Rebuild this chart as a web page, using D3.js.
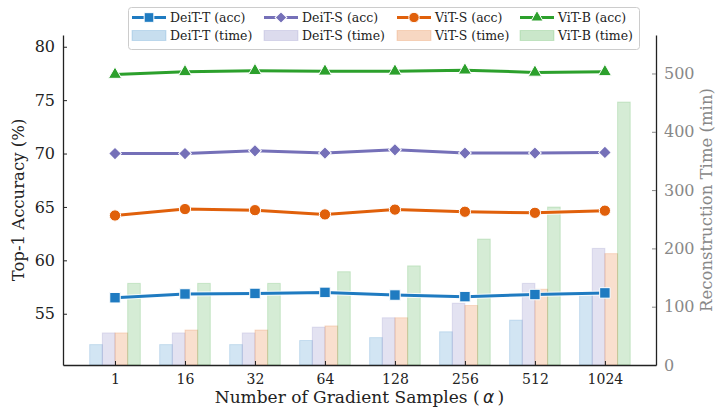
<!DOCTYPE html>
<html lang="en">
  <head>
    <title>chart</title>
    <meta charset="utf-8">
    <style>
      body { margin: 0; background: #fff; }
      svg { font-family: "DejaVu Serif", serif; }
    </style>
  </head>
  <body>
<svg width="721" height="409"></svg>
<script src="https://d3js.org/d3.v7.min.js"></script>
<script>

var samples = ["1", "16", "32", "64", "128", "256", "512", "1024"];
var models = ["DeiT-T", "DeiT-S", "ViT-S", "ViT-B"];
var colors = ["#1f7bc1", "#7570b8", "#e0600b", "#2ca02c"];
var markers = ["square", "diamond", "circle", "triangle"];

// top-1 accuracy (%), left axis
var accDeiTT = [56.5, 56.85, 56.9, 57.0, 56.75, 56.6, 56.8, 56.95];
var accDeiTS = [70.0, 70.0, 70.25, 70.05, 70.35, 70.05, 70.05, 70.1];
var accViTS = [64.2, 64.8, 64.7, 64.3, 64.75, 64.55, 64.45, 64.65];
var accViTB = [77.4, 77.65, 77.75, 77.7, 77.7, 77.8, 77.6, 77.65];

// reconstruction time (min), right axis
var timeDeiTT = [35, 35, 35, 42, 47, 57, 77, 123];
var timeDeiTS = [55, 55, 55, 65, 81, 106, 140, 200];
var timeViTS = [55, 60, 60, 67, 81, 102, 130, 191];
var timeViTB = [140, 140, 140, 160, 170, 216, 271, 451];

var accSeries = [accDeiTT, accDeiTS, accViTS, accViTB];
var timeSeries = [timeDeiTT, timeDeiTS, timeViTS, timeViTB];

var leftTicks = [55, 60, 65, 70, 75, 80];
var rightTicks = [0, 100, 200, 300, 400, 500];

var svg = d3.select("svg");
var pLeft = 63, pRight = 656, pTop = 35, pBottom = 365;

var x = d3.scaleLinear().domain([-0.743, 7.73]).range([pLeft, pRight]);
var yL = d3.scaleLinear().domain([50.2, 81.1]).range([pBottom, pTop]);
var yR = d3.scaleLinear().domain([0, 566]).range([pBottom, pTop]);
var bw = 0.181;

// bars
timeSeries.forEach(function(s, k) {
  svg.append("g").selectAll("rect").data(s).enter().append("rect")
    .attr("x", function(d, i) { return x(i + (k - 2) * bw); })
    .attr("y", function(d) { return yR(d); })
    .attr("width", x(bw) - x(0))
    .attr("height", function(d) { return pBottom - yR(d); })
    .attr("fill", colors[k]).attr("fill-opacity", 0.2)
    .attr("stroke", colors[k]).attr("stroke-opacity", 0.18).attr("stroke-width", 1);
});

function drawMarker(g, type, cx, cy, col, size) {
  var sym = {square: d3.symbolSquare, diamond: d3.symbolSquare, circle: d3.symbolCircle, triangle: d3.symbolTriangle}[type];
  var area = {square: 110, diamond: 80, circle: 100, triangle: 75}[type] * (size || 1);
  g.append("path").attr("d", d3.symbol().type(sym).size(area)())
    .attr("transform", "translate(" + cx + "," + cy + ")" + (type == "diamond" ? " rotate(45)" : ""))
    .attr("fill", col).attr("stroke", "#fff").attr("stroke-width", 1);
}

// lines
var line = d3.line().x(function(d, i) { return x(i); }).y(function(d) { return yL(d); });
accSeries.forEach(function(s, k) {
  var g = svg.append("g");
  g.append("path").attr("d", line(s)).attr("fill", "none")
    .attr("stroke", "#fff").attr("stroke-width", 5).attr("stroke-opacity", 0.8);
  g.append("path").attr("d", line(s)).attr("fill", "none")
    .attr("stroke", colors[k]).attr("stroke-width", 3);
  s.forEach(function(d, i) { drawMarker(g, markers[k], x(i), yL(d), colors[k]); });
});

// axes
var gl = svg.append("g").attr("transform", "translate(" + pLeft + ",0)")
  .call(d3.axisLeft(yL).tickValues(leftTicks).tickSizeInner(-4).tickSizeOuter(0).tickPadding(8));
gl.select(".domain").attr("stroke", "#222").attr("stroke-width", 1.3);
gl.selectAll(".tick line").attr("stroke", "#222");
gl.selectAll("text").attr("font-size", 16).attr("fill", "#222").attr("font-family", "DejaVu Serif");

var gr = svg.append("g").attr("transform", "translate(" + pRight + ",0)")
  .call(d3.axisRight(yR).tickValues(rightTicks).tickSizeInner(-4).tickSizeOuter(0).tickPadding(8));
gr.select(".domain").attr("stroke", "#222").attr("stroke-width", 1.3);
gr.selectAll(".tick line").attr("stroke", "#888");
gr.selectAll("text").attr("font-size", 16).attr("fill", "#888").attr("font-family", "DejaVu Serif");

var gb = svg.append("g").attr("transform", "translate(0," + pBottom + ")")
  .call(d3.axisBottom(x).tickValues(d3.range(samples.length)).tickFormat(function(i) { return samples[i]; })
    .tickSizeInner(-4).tickSizeOuter(0).tickPadding(9));
gb.select(".domain").attr("stroke", "#222").attr("stroke-width", 1.3);
gb.selectAll(".tick line").attr("stroke", "#222");
gb.selectAll("text").attr("font-size", 14).attr("fill", "#222").attr("font-family", "DejaVu Serif");

// axis titles
svg.append("text").attr("transform", "translate(24," + (pTop + pBottom) / 2 + ") rotate(-90)")
  .attr("text-anchor", "middle").attr("font-size", 16.5).attr("fill", "#222").text("Top-1 Accuracy (%)");
svg.append("text").attr("transform", "translate(712," + (pTop + pBottom) / 2 + ") rotate(-90)")
  .attr("text-anchor", "middle").attr("font-size", 16.5).attr("fill", "#888").text("Reconstruction Time (min)");
var xt = svg.append("text").attr("x", (pLeft + pRight) / 2).attr("y", 403)
  .attr("text-anchor", "middle").attr("font-size", 17).attr("fill", "#222");
xt.append("tspan").text("Number of Gradient Samples (\u2009");
xt.append("tspan").attr("font-style", "italic").attr("font-family", "DejaVu Sans").text("\u03b1");
xt.append("tspan").text("\u2009)");

// legend
var lg = svg.append("g");
lg.append("rect").attr("x", 128.5).attr("y", 7.5).attr("width", 511).attr("height", 42).attr("rx", 3)
  .attr("fill", "#fff").attr("fill-opacity", 0.85).attr("stroke", "#ccc");
var colX = [132, 264, 397, 520];
models.forEach(function(m, k) {
  var x0 = colX[k], y1 = 17.5, y2 = 35.5;
  lg.append("line").attr("x1", x0).attr("x2", x0 + 34).attr("y1", y1).attr("y2", y1)
    .attr("stroke", colors[k]).attr("stroke-width", 3);
  drawMarker(lg, markers[k], x0 + 17, y1, colors[k], 0.85);
  lg.append("text").attr("x", x0 + 38).attr("y", y1 + 4.5).attr("font-size", 12.5).attr("fill", "#222").text(m + " (acc)");
  lg.append("rect").attr("x", x0).attr("y", y2 - 5).attr("width", 34).attr("height", 10)
    .attr("fill", colors[k]).attr("fill-opacity", 0.25).attr("stroke", colors[k]).attr("stroke-opacity", 0.2);
  lg.append("text").attr("x", x0 + 38).attr("y", y2 + 4.5).attr("font-size", 12.5).attr("fill", "#222").text(m + " (time)");
});

</script>
  </body>
</html>
